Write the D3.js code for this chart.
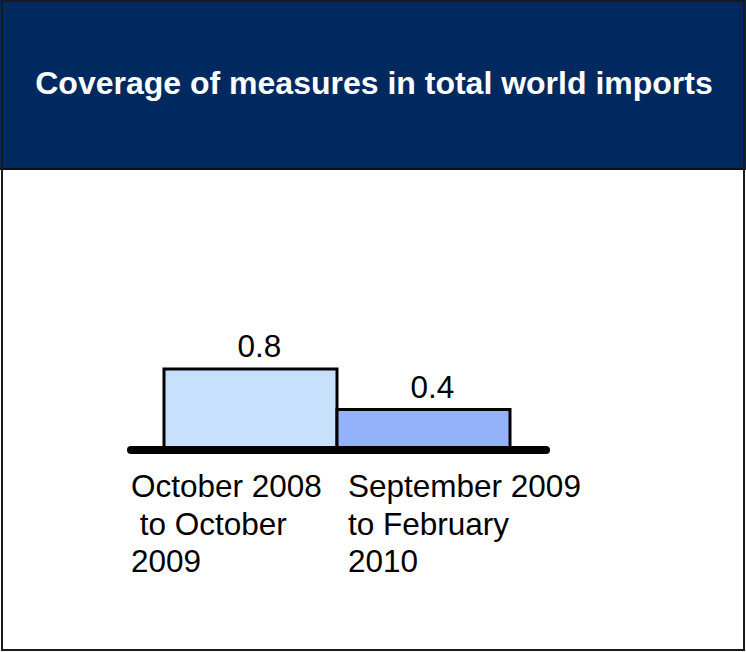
<!DOCTYPE html>
<html>
<head>
<meta charset="utf-8">
<script src="https://cdn.jsdelivr.net/npm/d3@7"></script>
<style>
  html, body { margin: 0; padding: 0; background: #fff; }
  svg { display: block; }
  text { font-family: "Liberation Sans", Arial, Helvetica, sans-serif; }
</style>
</head>
<body>
<svg id="chart" width="746" height="652"></svg>
<script>
const title = "Coverage of measures in total world imports";
const categories = ["Oct2008-Oct2009", "Sep2009-Feb2010"];
const categoryLines = [
  ["October 2008", " to October", "2009"],
  ["September 2009", "to February", "2010"]
];
const values = [0.8, 0.4];
const valueLabels = ["0.8", "0.4"];
const colors = ["#c7e0fb", "#94b1fc"];

const svg = d3.select("#chart");
const W = 746, H = 652;

// header
svg.append("rect").attr("x", 0).attr("y", 0).attr("width", W).attr("height", 169)
  .attr("fill", "#002a5f");
svg.append("line").attr("x1", 0).attr("x2", W).attr("y1", 169).attr("y2", 169)
  .attr("stroke", "#111").attr("stroke-width", 2);
svg.append("text").attr("x", 374).attr("y", 94)
  .attr("text-anchor", "middle").attr("fill", "#fff")
  .attr("font-weight", "bold").attr("font-size", 32)
  .text(title);

// outer border
svg.append("rect").attr("x", 2).attr("y", 1).attr("width", 742).attr("height", 649)
  .attr("fill", "none").attr("stroke", "#1a1a1a").attr("stroke-width", 2);

const x = d3.scaleBand().domain(categories).range([164, 510]).padding(0);
const y = d3.scaleLinear().domain([0, 1]).range([450, 348.75]);

svg.selectAll("rect.bar").data(values).join("rect")
  .attr("class", "bar")
  .attr("x", (d, i) => x(categories[i]))
  .attr("y", d => y(d))
  .attr("width", x.bandwidth())
  .attr("height", d => y(0) - y(d))
  .attr("fill", (d, i) => colors[i])
  .attr("stroke", "#000").attr("stroke-width", 3);

// baseline
svg.append("line").attr("x1", 131).attr("x2", 546).attr("y1", y(0)).attr("y2", y(0))
  .attr("stroke", "#000").attr("stroke-width", 8).attr("stroke-linecap", "round");

// value labels
svg.selectAll("text.val").data(values).join("text")
  .attr("class", "val")
  .attr("x", (d, i) => x(categories[i]) + x.bandwidth() / 2 + 9)
  .attr("y", d => y(d) - 12)
  .attr("text-anchor", "middle").attr("font-size", 31.5).attr("fill", "#000")
  .text((d, i) => valueLabels[i]);

// category labels
const labelX = [131, 348];
categoryLines.forEach((lines, i) => {
  const t = svg.append("text").attr("x", labelX[i]).attr("y", 497)
    .attr("font-size", 31.5).attr("fill", "#000").attr("xml:space", "preserve")
    .style("white-space", "pre");
  lines.forEach((ln, j) => {
    t.append("tspan").attr("x", labelX[i]).attr("y", 497 + j * 37.5).text(ln);
  });
});
</script>
</body>
</html>
